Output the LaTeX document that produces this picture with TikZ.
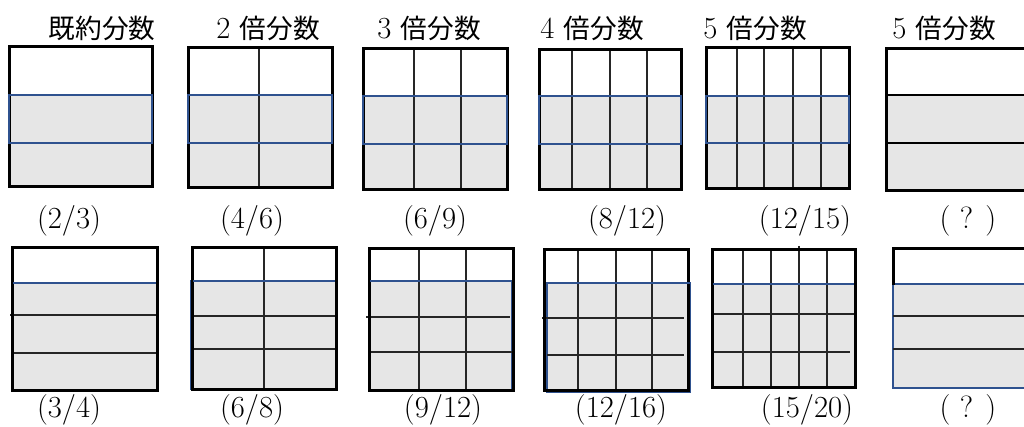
\documentclass[tikz,border=0pt]{standalone}
\usepackage{fontspec}
\newfontfamily\cjk{Noto Sans CJK JP}
\definecolor{fillgray}{RGB}{230,230,230}
\definecolor{boxblue}{RGB}{47,82,143}
\newcommand{\kj}[1]{{\fontsize{20}{24}\selectfont\cjk #1}}
\tikzset{
  outer/.style={draw=black,line width=2.25pt},
  inner/.style={draw=black!85,line width=0.8pt},
  midline/.style={draw=black,line width=1.8pt},
  blueframe/.style={draw=boxblue,line width=2.2pt},
  bluefill/.style={fill=fillgray,draw=boxblue,line width=1.7pt},
  shade/.style={fill=fillgray},
  lbl/.style={font=\fontsize{23}{27}\selectfont,inner sep=0pt}
}
\begin{document}
\begin{tikzpicture}[x=0.75pt,y=-0.75pt]
\useasboundingbox (0,0) rectangle (1024,427);
\clip (0,0) rectangle (1024,427);
\fill[white] (0,0) rectangle (1024,427);

% ---------- top labels ----------
\node[lbl] (h1) at (102,28) {\kj{既約分数}};
\node[lbl] (h2) at (268,28) {2 \kj{倍分数}};
\node[lbl] (h3) at (429,28) {3 \kj{倍分数}};
\node[lbl] (h4) at (592,28) {4 \kj{倍分数}};
\node[lbl] (h5) at (755,28) {5 \kj{倍分数}};
\node[lbl] (h6) at (944,28) {5 \kj{倍分数}};

% ---------- top row ----------
% T1
\fill[shade] (9,95) rectangle (152,187);
\draw[outer] (9,47) rectangle (152,187);
\draw[blueframe] (9,95) rectangle (152,143);
% T2
\fill[shade] (188,95) rectangle (332,188);
\draw[inner] (259,48) -- (259,188);
\draw[outer] (188,48) rectangle (332,188);
\draw[blueframe] (188,95) rectangle (332,143);
% T3
\fill[shade] (363,96) rectangle (507,190);
\draw[inner] (414,49) -- (414,190) (461,49) -- (461,190);
\draw[outer] (363,49) rectangle (507,190);
\draw[blueframe] (363,96) rectangle (507,144);
% T4
\fill[shade] (539,96) rectangle (681,190);
\draw[inner] (572,50) -- (572,190) (610,50) -- (610,190) (647,50) -- (647,190);
\draw[outer] (539,50) rectangle (681,190);
\draw[blueframe] (539,96) rectangle (681,144);
% T5
\fill[shade] (706,96) rectangle (849,189);
\draw[inner] (737,48) -- (737,189) (764,48) -- (764,189) (793,48) -- (793,189) (821,48) -- (821,189);
\draw[outer] (706,48) rectangle (849,189);
\draw[blueframe] (706,96) rectangle (849,143);
% T6
\fill[shade] (886,95) rectangle (1030,191);
\draw[outer] (886,49) rectangle (1030,191);
\draw[midline] (886,95) -- (1030,95) (886,143) -- (1030,143);

% ---------- middle labels ----------
\node[lbl] (m1) at (69,221) {(2/3)};
\node[lbl] (m2) at (252,221) {(4/6)};
\node[lbl] (m3) at (435,221) {(6/9)};
\node[lbl] (m4) at (627,221) {(8/12)};
\node[lbl] (m5) at (805,221) {(12/15)};
\node[lbl] (m6) at (968,221) {( ? )};

% ---------- bottom row ----------
% B1
\filldraw[bluefill] (12,283) rectangle (157,390);
\draw[inner] (10,315) -- (157,315) (12,353) -- (157,353);
\draw[outer] (12,248) rectangle (157,390);
\draw[blueframe] (13,283) -- (156,283);
% B2
\filldraw[bluefill] (191,281) rectangle (336,389);
\draw[inner] (264,248) -- (264,389) (192,316) -- (336,316) (192,349) -- (336,349);
\draw[outer] (192,248) rectangle (336,389);
\draw[blueframe] (193,281) -- (335,281);
% B3
\filldraw[bluefill] (369,281) rectangle (512,390);
\draw[inner] (419,249) -- (419,390) (466,249) -- (466,390) (366,317) -- (510,317) (369,352) -- (513,352);
\draw[outer] (369,249) rectangle (513,390);
\draw[blueframe] (370,281) -- (512,281);
% B4
\filldraw[bluefill] (547,283) rectangle (690,392);
\draw[inner] (578,250) -- (578,390) (616,250) -- (616,390) (652,250) -- (652,390) (542,318) -- (684,318) (547,355) -- (684,355);
\draw[outer] (544,250) rectangle (688,390);
\draw[blueframe] (547,283) -- (690,283);
% B5
\filldraw[bluefill] (712,284) rectangle (855,387);
\draw[inner] (743,250) -- (743,389) (771,250) -- (771,389) (799,246) -- (799,389) (827,250) -- (827,389) (712,314) -- (856,314) (712,352) -- (850,352);
\draw[outer] (712,250) rectangle (855,387);
\draw[blueframe] (713,284) -- (854,284);
% B6
\filldraw[bluefill] (893,284) rectangle (1030,388);
\draw[inner] (893,316) -- (1030,316) (893,349) -- (1030,349);
\draw[outer] (893,285) -- (893,249) -- (1030,249);

% ---------- bottom labels ----------
\node[lbl] (b1) at (69,410) {(3/4)};
\node[lbl] (b2) at (252,410) {(6/8)};
\node[lbl] (b3) at (443,410) {(9/12)};
\node[lbl] (b4) at (621,410) {(12/16)};
\node[lbl] (b5) at (807,410) {(15/20)};
\node[lbl] (b6) at (968,410) {( ? )};
\end{tikzpicture}
\end{document}
